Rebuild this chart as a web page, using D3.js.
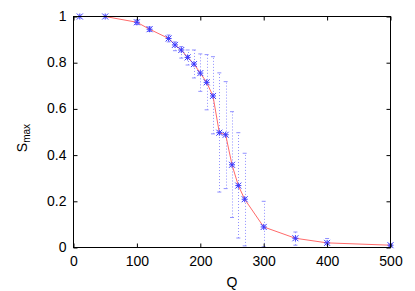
<!DOCTYPE html>
<html>
<head>
<meta charset="utf-8">
<script src="https://cdn.jsdelivr.net/npm/d3@7"></script>
<style>
  body { margin: 0; background: #fff; }
  text { font-family: "Liberation Sans", Arial, sans-serif; }
</style>
</head>
<body>
<div id="chart"></div>
<script>
// data
var qValues = [10, 50, 100, 120, 150, 160, 170, 180, 190, 200, 210, 220, 230, 240, 250, 260, 270, 300, 350, 400, 500];
var sMax    = [1, 1, 0.975, 0.945, 0.905, 0.877, 0.855, 0.823, 0.794, 0.755, 0.715, 0.656, 0.497, 0.488, 0.358, 0.268, 0.209, 0.089, 0.04, 0.02, 0.01];
var sLow    = [1, 1, 0.965, 0.935, 0.89, 0.852, 0.82, 0.79, 0.734, 0.676, 0.596, 0.492, 0.24, 0.255, 0.13, 0.041, 0.007, 0.003, 0.01, 0.0, 0.005];
var sHigh   = [1, 1, 0.985, 0.955, 0.92, 0.89, 0.87, 0.855, 0.855, 0.838, 0.835, 0.826, 0.756, 0.718, 0.588, 0.497, 0.408, 0.2, 0.067, 0.039, 0.015];
var xTicks = [0, 100, 200, 300, 400, 500];
var yTicks = [0, 0.2, 0.4, 0.6, 0.8, 1];

const width = 415;
const height = 291;
const mLeft = 73.5, mRight = 390.5, mTop = 16.5, mBottom = 247.5;

var svg = d3.select('#chart').append('svg')
    .attr('width', width)
    .attr('height', height);

var x = d3.scaleLinear().domain([0, 500]).range([mLeft, mRight]);
var y = d3.scaleLinear().domain([0, 1]).range([mBottom, mTop]);

var pts = qValues.map(function (q, i) {
    return { q: q, s: sMax[i], lo: sLow[i], hi: sHigh[i] };
});

// error bars (dotted, light blue)
var eb = svg.append('g')
    .attr('stroke', '#9090ff')
    .attr('stroke-width', 1);
eb.selectAll('line.v').data(pts).enter().append('line')
    .attr('stroke-dasharray', '1,2')
    .attr('x1', function (d) { return Math.round(x(d.q)) + 0.5; })
    .attr('x2', function (d) { return Math.round(x(d.q)) + 0.5; })
    .attr('y1', function (d) { return y(d.lo); })
    .attr('y2', function (d) { return y(d.hi); });
eb.selectAll('line.top').data(pts).enter().append('line')
    .attr('x1', function (d) { return x(d.q) - 2; })
    .attr('x2', function (d) { return x(d.q) + 2; })
    .attr('y1', function (d) { return y(d.hi); })
    .attr('y2', function (d) { return y(d.hi); });
eb.selectAll('line.bot').data(pts).enter().append('line')
    .attr('x1', function (d) { return x(d.q) - 2; })
    .attr('x2', function (d) { return x(d.q) + 2; })
    .attr('y1', function (d) { return y(d.lo); })
    .attr('y2', function (d) { return y(d.lo); });

// line
var line = d3.line()
    .x(function (d) { return x(d.q); })
    .y(function (d) { return y(d.s); });
svg.append('path')
    .datum(pts)
    .attr('d', line)
    .attr('fill', 'none')
    .attr('stroke', '#ff6a6a')
    .attr('stroke-width', 1);

// markers: asterisk
var m = svg.append('g').attr('stroke', '#3a3aff').attr('stroke-width', 1);
pts.forEach(function (d) {
    var cx = x(d.q), cy = y(d.s), r = 3;
    m.append('line').attr('x1', cx - r).attr('x2', cx + r).attr('y1', cy).attr('y2', cy);
    m.append('line').attr('x1', cx).attr('x2', cx).attr('y1', cy - r).attr('y2', cy + r);
    m.append('line').attr('x1', cx - r).attr('x2', cx + r).attr('y1', cy - r).attr('y2', cy + r);
    m.append('line').attr('x1', cx - r).attr('x2', cx + r).attr('y1', cy + r).attr('y2', cy - r);
});

// frame
svg.append('rect')
    .attr('x', mLeft).attr('y', mTop)
    .attr('width', mRight - mLeft).attr('height', mBottom - mTop)
    .attr('fill', 'none')
    .attr('stroke', 'black')
    .attr('stroke-width', 1);

// axes with inward ticks
var xAxis = svg.append('g').attr('transform', 'translate(0,' + mBottom + ')')
    .call(d3.axisBottom(x).tickValues(xTicks).tickSizeInner(-4).tickSizeOuter(0).tickPadding(9));
var xTop = svg.append('g').attr('transform', 'translate(0,' + mTop + ')')
    .call(d3.axisTop(x).tickValues(xTicks).tickSizeInner(-4).tickSizeOuter(0).tickFormat(''));
var yAxis = svg.append('g').attr('transform', 'translate(' + mLeft + ',0)')
    .call(d3.axisLeft(y).tickValues(yTicks).tickSizeInner(-4).tickSizeOuter(0).tickPadding(7).tickFormat(d3.format('')));
var yRight = svg.append('g').attr('transform', 'translate(' + mRight + ',0)')
    .call(d3.axisRight(y).tickValues(yTicks).tickSizeInner(-4).tickSizeOuter(0).tickFormat(''));

[xAxis, xTop, yAxis, yRight].forEach(function (a) {
    a.select('.domain').remove();
    a.selectAll('text')
        .attr('font-size', 14)
        .style('font-family', 'Liberation Sans, Arial, sans-serif')
        .attr('fill', 'black');
});
yAxis.selectAll('text').attr('dy', '0.28em');

// axis titles
svg.append('text')
    .attr('x', (mLeft + mRight) / 2)
    .attr('y', 287)
    .attr('text-anchor', 'middle')
    .attr('font-size', 14)
    .text('Q');

var yl = svg.append('text')
    .attr('transform', 'translate(27,138) rotate(-90)')
    .attr('text-anchor', 'middle')
    .attr('font-size', 14);
yl.append('tspan').text('S');
yl.append('tspan').attr('font-size', 10).attr('dy', 3).text('max');
</script>
</body>
</html>
